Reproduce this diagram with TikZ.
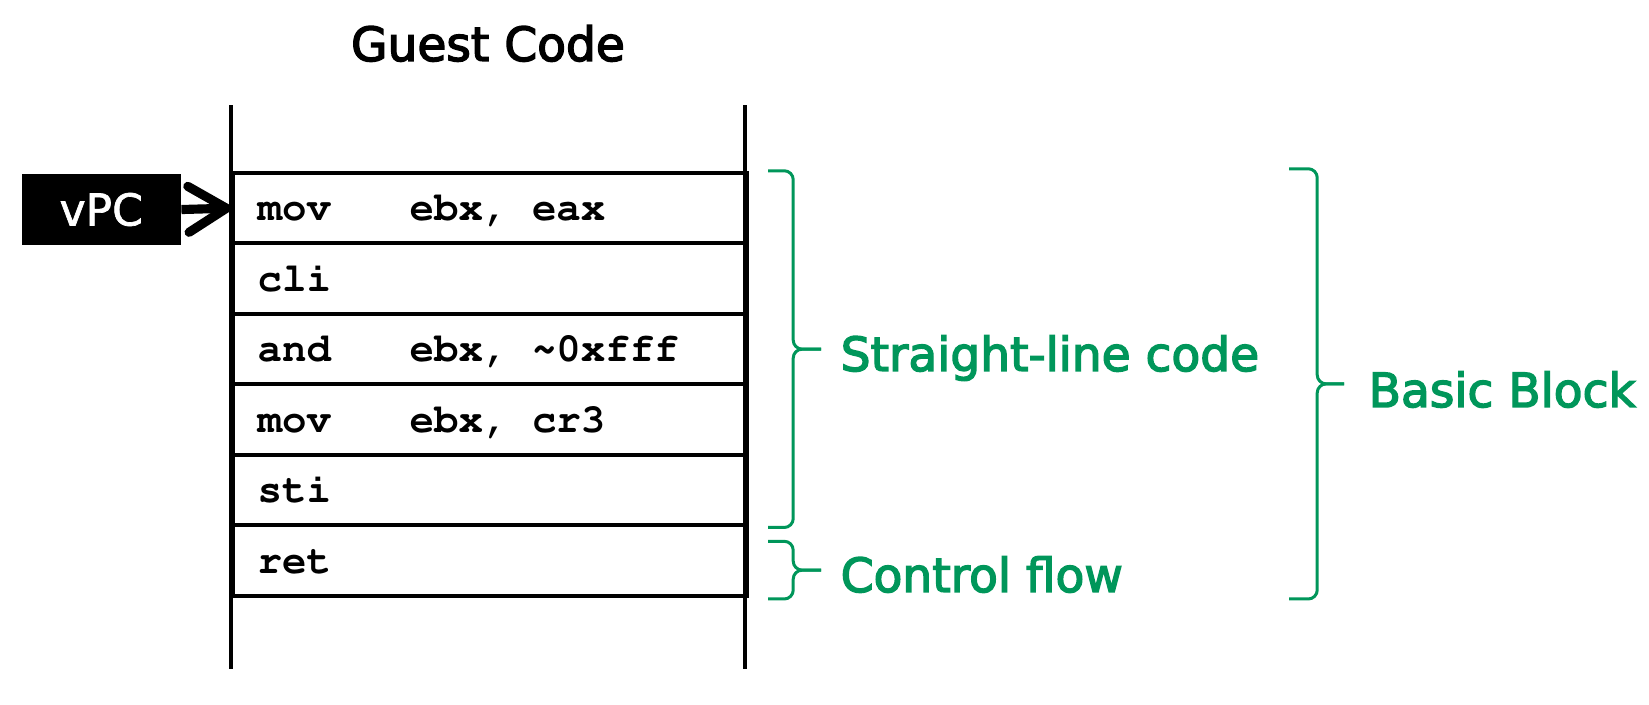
\documentclass[tikz,border=0pt]{standalone}
\usepackage[T1,TU]{fontenc}
\usepackage{fontspec}
\setmainfont{DejaVu Sans}
\newfontfamily\lblfont{DejaVu Sans}[FakeBold=3]
\newfontfamily\tagfont{DejaVu Sans}[FakeBold=1.5]
\newcommand{\codefont}{\fontencoding{T1}\fontfamily{pcr}\fontseries{b}\selectfont}
\usepackage{tikz}
\usetikzlibrary{calc}
\usetikzlibrary{positioning}
\usetikzlibrary{arrows.meta}
\definecolor{bbgreen}{RGB}{0,150,90}

\begin{document}
\begin{tikzpicture}[
	rowbox/.style={rectangle, draw=black, line width=1.2pt, minimum height=0.705cm, minimum width=5.14cm, anchor=south west, inner sep=0pt},
	instr/.style={anchor=base west, inner sep=0pt, font=\codefont\fontsize{11.6}{14}\selectfont},
	grnbrace/.style={draw=bbgreen, line width=0.85pt, rounded corners=0.09cm},
	grnlabel/.style={anchor=base west, inner sep=0pt, text=bbgreen, font=\lblfont\fontsize{13.4}{16}\selectfont}
]

\useasboundingbox (0,0) rectangle (16.49,7.05);

%%\draw[step=0.5cm, gray, very thin] (0,0) grid (16.5,7);

\node at (4.88,6.44) [anchor=base, inner sep=0pt, font=\lblfont\fontsize{13.4}{16}\selectfont] (title) {Guest Code};

\draw[line width=1.2pt] (2.31,0.36) -- (2.31,6.00);
\draw[line width=1.2pt] (7.45,0.36) -- (7.45,6.00);

\node at (2.31,4.595) [rowbox] (mov1) {};
\node at (2.31,3.89) [rowbox] (cli) {};
\node at (2.31,3.185) [rowbox] (and) {};
\node at (2.31,2.48) [rowbox] (mov2) {};
\node at (2.31,1.775) [rowbox] (sti) {};
\node at (2.31,1.07) [rowbox] (ret) {};

\node at (2.57,4.84) [instr] (mov1op) {mov};
\node at (4.09,4.84) [instr] (mov1arg) {ebx, eax};
\node at (2.57,4.135) [instr] (cliop) {cli};
\node at (2.57,3.43) [instr] (andop) {and};
\node at (4.09,3.43) [instr] (andarg) {ebx, \textasciitilde0xfff};
\node at (2.57,2.725) [instr] (mov2op) {mov};
\node at (4.09,2.725) [instr] (mov2arg) {ebx, cr3};
\node at (2.57,2.02) [instr] (stiop) {sti};
\node at (2.57,1.315) [instr] (retop) {ret};

\node at (0.21,4.595) [rectangle, fill=black, text=white, minimum height=0.705cm, minimum width=1.59cm, anchor=south west, font=\tagfont\fontsize{12.5}{14}\selectfont] (vpc) {vPC};

\draw [line width=2.6pt, -{Straight Barb[length=0.38cm, width=0.46cm, round]}] (vpc.east) -- (mov1.west);

% braces
\coordinate (b1top) at ($(mov1.north east)+(0.19,0)$);
\coordinate (b1bot) at ($(sti.south east)+(0.19,0)$);
\coordinate (b1tip) at ($(b1top)!0.5!(b1bot)+(0.53,0)$);
\coordinate (b2top) at ($(ret.north east)+(0.19,-0.18)$);
\coordinate (b2bot) at ($(ret.south east)+(0.19,-0.01)$);
\coordinate (b2tip) at ($(b2top)!0.5!(b2bot)+(0.53,0)$);
\coordinate (b3top) at ($(mov1.north east)+(5.40,0.02)$);
\coordinate (b3bot) at ($(ret.south east)+(5.40,-0.01)$);
\coordinate (b3tip) at ($(b3top)!0.5!(b3bot)+(0.55,0)$);

\draw [grnbrace] (b1top) -- ++(0.25,0) |- (b1tip);
\draw [grnbrace] (b1bot) -- ++(0.25,0) |- (b1tip);
\draw [grnbrace] (b2top) -- ++(0.25,0) |- (b2tip);
\draw [grnbrace] (b2bot) -- ++(0.25,0) |- (b2tip);
\draw [grnbrace] (b3top) -- ++(0.28,0) |- (b3tip);
\draw [grnbrace] (b3bot) -- ++(0.28,0) |- (b3tip);

\node at (8.40,3.34) [grnlabel] (straight) {Straight-line code};
\node at (8.40,1.13) [grnlabel] (ctrl) {Control flow};
\node at (13.68,2.98) [grnlabel] (bblock) {Basic Block};

\end{tikzpicture}
\end{document}
